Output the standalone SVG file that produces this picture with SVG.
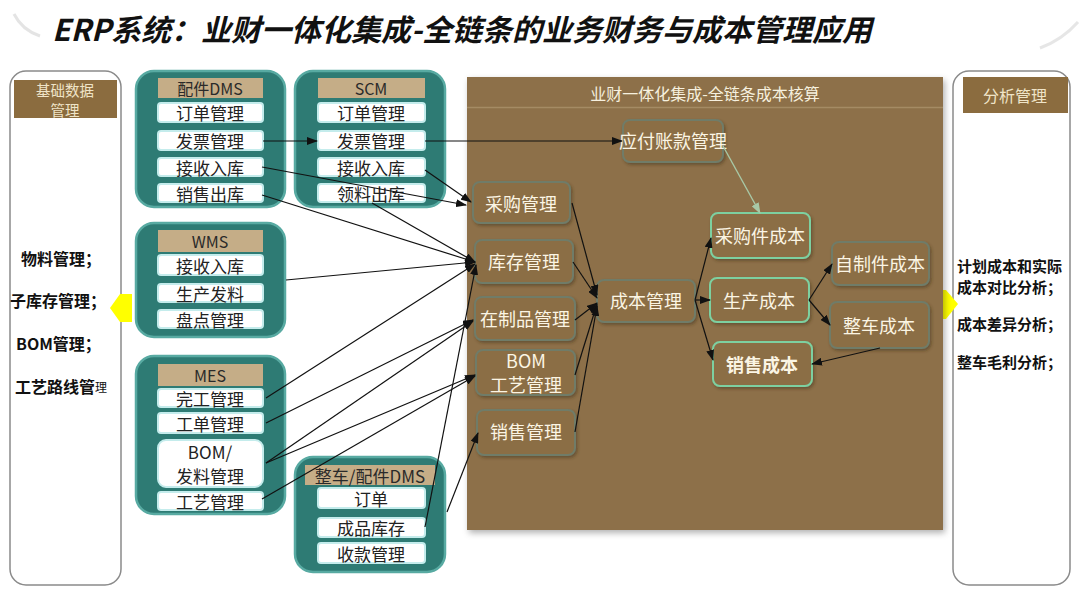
<svg xmlns="http://www.w3.org/2000/svg" width="1080" height="607" viewBox="0 0 1080 607">
<defs>
<style>
text{font-family:"Noto Sans CJK SC","Noto Sans",sans-serif;}
.tb{fill:#2e7b74;stroke:#58aaa2;stroke-width:2.5;}
.th{fill:#c5ad87;}
.thx{font-size:16px;fill:#2a2a2a;text-anchor:middle;dominant-baseline:central;}
.it{fill:#ffffff;stroke:#c4ecec;stroke-width:2;}
.itx{font-size:17px;fill:#222;text-anchor:middle;dominant-baseline:central;}
.nd{fill:#8b6e45;stroke:#6f7b68;stroke-width:2;}
.ng{fill:#8b6e45;stroke:#7dd0a0;stroke-width:2;}
.ntx{font-size:18px;fill:#fbf5e4;text-anchor:middle;dominant-baseline:central;}
.side{fill:#ffffff;stroke:#8a8a8a;stroke-width:1.5;}
.sh{fill:#8b6c3f;}
.shx{font-size:14.5px;fill:#efe4c8;text-anchor:middle;dominant-baseline:central;}
.bt{font-size:16px;font-weight:bold;fill:#111;dominant-baseline:central;}
.cn{stroke:#111;stroke-width:1.2;fill:none;marker-end:url(#ah);}
.cl{stroke:#a8c8a6;stroke-width:1.4;fill:none;marker-end:url(#al);}
</style>
<marker id="ah" markerWidth="11" markerHeight="8" refX="10" refY="4" orient="auto" markerUnits="userSpaceOnUse"><path d="M0,0 L11,4 L0,8 z" fill="#111"/></marker>
<marker id="al" markerWidth="11" markerHeight="8" refX="10" refY="4" orient="auto" markerUnits="userSpaceOnUse"><path d="M0,0 L11,4 L0,8 z" fill="#a8c8a6"/></marker>
<filter id="sd" x="-10%" y="-10%" width="125%" height="130%"><feDropShadow dx="1.5" dy="2" stdDeviation="1.5" flood-color="#3a2c18" flood-opacity="0.45"/></filter>
<filter id="ps" x="-5%" y="-5%" width="110%" height="110%"><feDropShadow dx="2" dy="3" stdDeviation="3" flood-color="#000" flood-opacity="0.3"/></filter>
</defs>
<rect width="1080" height="607" fill="#ffffff"/>
<path d="M14,14 Q22,30 40,36" stroke="#d8d8d8" stroke-width="3" fill="none" opacity="0.7"/>
<path d="M1040,48 Q1062,40 1078,22" stroke="#dcdcdc" stroke-width="3" fill="none" opacity="0.7"/>
<text x="52" y="41" font-size="30" font-weight="bold" font-style="italic" fill="#111">ERP系统：业财一体化集成-全链条的业务财务与成本管理应用</text>

<g id="left-panel">
<rect class="side" x="10" y="71" width="111" height="514" rx="16"/>
<rect class="sh" x="14" y="80" width="103" height="38"/>
<text class="shx" x="65" y="89">基础数据</text>
<text class="shx" x="65" y="109">管理</text>
<text class="bt" x="21" y="258">物料管理；</text>
<text class="bt" x="10" y="300">子库存管理；</text>
<text class="bt" x="16" y="343">BOM管理；</text>
<text class="bt" x="15" y="386">工艺路线管<tspan font-size="12px" font-weight="normal">理</tspan></text>
<polygon points="110,308 120,294 132,294 132,322 120,322" fill="#ffff00"/>
</g>

<g id="right-panel">
<rect class="side" x="953" y="71" width="117" height="514" rx="16"/>
<rect class="sh" x="963" y="77" width="105" height="36"/>
<text class="shx" x="1015" y="95" style="font-size:16px">分析管理</text>
<text class="bt" x="957" y="265" style="font-size:15px">计划成本和实际</text>
<text class="bt" x="957" y="286" style="font-size:15px">成本对比分析；</text>
<text class="bt" x="957" y="323" style="font-size:15px">成本差异分析；</text>
<text class="bt" x="957" y="361" style="font-size:15px">整车毛利分析；</text>
<polygon points="935,290 946,290 958,304 946,319 935,319" fill="#ffff00"/>
</g>

<g id="main-panel">
<rect x="467" y="77" width="476" height="453" fill="#8d7049" filter="url(#ps)"/>
<line x1="467" y1="107.5" x2="943" y2="107.5" stroke="#a58b64" stroke-width="1.5"/>
<text x="705" y="93" font-size="16" fill="#f6f0df" text-anchor="middle" dominant-baseline="central">业财一体化集成-全链条成本核算</text>
</g>

<g id="dms">
<rect class="tb" x="136" y="71" width="149" height="136" rx="18"/>
<rect class="th" x="158" y="78" width="105" height="20"/>
<text class="thx" x="210" y="88">配件DMS</text>
<rect class="it" x="158" y="103" width="105" height="19" rx="3"/><text class="itx" x="210" y="112">订单管理</text>
<rect class="it" x="158" y="131" width="105" height="19" rx="3"/><text class="itx" x="210" y="140">发票管理</text>
<rect class="it" x="158" y="158" width="105" height="18" rx="3"/><text class="itx" x="210" y="167">接收入库</text>
<rect class="it" x="158" y="184" width="105" height="18" rx="3"/><text class="itx" x="210" y="193">销售出库</text>
</g>

<g id="scm">
<rect class="tb" x="295" y="71" width="150" height="136" rx="18"/>
<rect class="th" x="318" y="78" width="107" height="20"/>
<text class="thx" x="371" y="88">SCM</text>
<rect class="it" x="318" y="103" width="107" height="19" rx="3"/><text class="itx" x="371" y="112">订单管理</text>
<rect class="it" x="318" y="131" width="107" height="19" rx="3"/><text class="itx" x="371" y="140">发票管理</text>
<rect class="it" x="318" y="158" width="107" height="18" rx="3"/><text class="itx" x="371" y="167">接收入库</text>
<rect class="it" x="318" y="184" width="107" height="18" rx="3"/><text class="itx" x="371" y="193">领料出库</text>
</g>

<g id="wms">
<rect class="tb" x="136" y="223" width="149" height="114" rx="18"/>
<rect class="th" x="158" y="230" width="105" height="22"/>
<text class="thx" x="210" y="241">WMS</text>
<rect class="it" x="158" y="255" width="105" height="20" rx="3"/><text class="itx" x="210" y="265">接收入库</text>
<rect class="it" x="158" y="284" width="105" height="18" rx="3"/><text class="itx" x="210" y="293">生产发料</text>
<rect class="it" x="158" y="310" width="105" height="18" rx="3"/><text class="itx" x="210" y="319">盘点管理</text>
</g>

<g id="mes">
<rect class="tb" x="136" y="356" width="149" height="158" rx="18"/>
<rect class="th" x="158" y="364" width="105" height="22"/>
<text class="thx" x="210" y="375">MES</text>
<rect class="it" x="158" y="389" width="105" height="18" rx="3"/><text class="itx" x="210" y="398">完工管理</text>
<rect class="it" x="158" y="413" width="105" height="20" rx="3"/><text class="itx" x="210" y="423">工单管理</text>
<rect class="it" x="158" y="440" width="105" height="47" rx="8"/><text class="itx" x="210" y="451">BOM/</text><text class="itx" x="210" y="475">发料管理</text>
<rect class="it" x="158" y="492" width="105" height="18" rx="3"/><text class="itx" x="210" y="501">工艺管理</text>
</g>

<g id="dms2">
<rect class="tb" x="295" y="457" width="150" height="115" rx="18"/>
<rect class="th" x="305" y="465" width="130" height="20"/>
<text class="thx" x="370" y="475" style="font-size:17px">整车/配件DMS</text>
<rect class="it" x="318" y="488" width="107" height="20" rx="3"/><text class="itx" x="371" y="498">订单</text>
<rect class="it" x="318" y="518" width="107" height="19" rx="3"/><text class="itx" x="371" y="527">成品库存</text>
<rect class="it" x="318" y="543" width="107" height="20" rx="3"/><text class="itx" x="371" y="553">收款管理</text>
</g>

<g id="n-yfzk"><rect class="nd" x="623" y="120" width="100" height="42" rx="7" filter="url(#sd)"/><text class="ntx" x="673" y="140">应付账款管理</text></g>
<g id="n-cggl"><rect class="nd" x="473" y="182" width="97" height="41" rx="7" filter="url(#sd)"/><text class="ntx" x="521" y="203">采购管理</text></g>
<g id="n-kcgl"><rect class="nd" x="475" y="240" width="98" height="43" rx="7" filter="url(#sd)"/><text class="ntx" x="524" y="261">库存管理</text></g>
<g id="n-zzp"><rect class="nd" x="475" y="297" width="100" height="43" rx="7" filter="url(#sd)"/><text class="ntx" x="525" y="318">在制品管理</text></g>
<g id="n-bom"><rect class="nd" x="476" y="350" width="99" height="45" rx="7" filter="url(#sd)"/><text class="ntx" x="526" y="360">BOM</text><text class="ntx" x="526" y="384">工艺管理</text></g>
<g id="n-xsgl"><rect class="nd" x="477" y="410" width="98" height="45" rx="7" filter="url(#sd)"/><text class="ntx" x="526" y="431">销售管理</text></g>
<g id="n-cbgl"><rect class="nd" x="597" y="280" width="98" height="42" rx="7" filter="url(#sd)"/><text class="ntx" x="646" y="300">成本管理</text></g>
<g id="n-cgjcb"><rect class="ng" x="711" y="213" width="99" height="45" rx="7" filter="url(#sd)"/><text class="ntx" x="760" y="235">采购件成本</text></g>
<g id="n-sccb"><rect class="ng" x="710" y="278" width="99" height="44" rx="7" filter="url(#sd)"/><text class="ntx" x="759" y="300">生产成本</text></g>
<g id="n-xscb"><rect class="ng" x="713" y="342" width="99" height="44" rx="7" filter="url(#sd)"/><text class="ntx" x="762" y="364" font-weight="bold">销售成本</text></g>
<g id="n-zzjcb"><rect class="nd" x="832" y="242" width="97" height="43" rx="7" filter="url(#sd)"/><text class="ntx" x="880" y="263">自制件成本</text></g>
<g id="n-zccb"><rect class="nd" x="830" y="302" width="99" height="46" rx="7" filter="url(#sd)"/><text class="ntx" x="879" y="325">整车成本</text></g>

<g id="connectors">
<line class="cn" x1="263" y1="141" x2="317" y2="141"/>
<line class="cn" x1="425" y1="141" x2="622" y2="141"/>
<line class="cl" x1="723" y1="146" x2="760" y2="213"/>
<line class="cn" x1="262" y1="167" x2="466" y2="205"/>
<line class="cn" x1="425" y1="170" x2="471" y2="202"/>
<line class="cn" x1="262" y1="195" x2="475" y2="262"/>
<line class="cn" x1="372" y1="203" x2="475" y2="262"/>
<line class="cn" x1="286" y1="280" x2="475" y2="262"/>
<line class="cn" x1="266" y1="398" x2="475" y2="264"/>
<line class="cn" x1="266" y1="423" x2="473" y2="320"/>
<line class="cn" x1="266" y1="463" x2="473" y2="321"/>
<line class="cn" x1="266" y1="463" x2="475" y2="375"/>
<line class="cn" x1="262" y1="499" x2="475" y2="376"/>
<line class="cn" x1="425" y1="527" x2="476" y2="265"/>
<line class="cn" x1="447" y1="512" x2="478" y2="433"/>
<line class="cn" x1="572" y1="203" x2="597" y2="295"/>
<line class="cn" x1="573" y1="262" x2="597" y2="298"/>
<line class="cn" x1="575" y1="320" x2="597" y2="303"/>
<line class="cn" x1="575" y1="375" x2="597" y2="304"/>
<line class="cn" x1="575" y1="432" x2="597" y2="306"/>
<line class="cn" x1="695" y1="300" x2="711" y2="238"/>
<line class="cn" x1="695" y1="300" x2="710" y2="300"/>
<line class="cn" x1="695" y1="300" x2="713" y2="360"/>
<line class="cn" x1="809" y1="300" x2="832" y2="264"/>
<line class="cn" x1="809" y1="300" x2="830" y2="325"/>
<line class="cn" x1="880" y1="348" x2="812" y2="364"/>
</g>
</svg>
